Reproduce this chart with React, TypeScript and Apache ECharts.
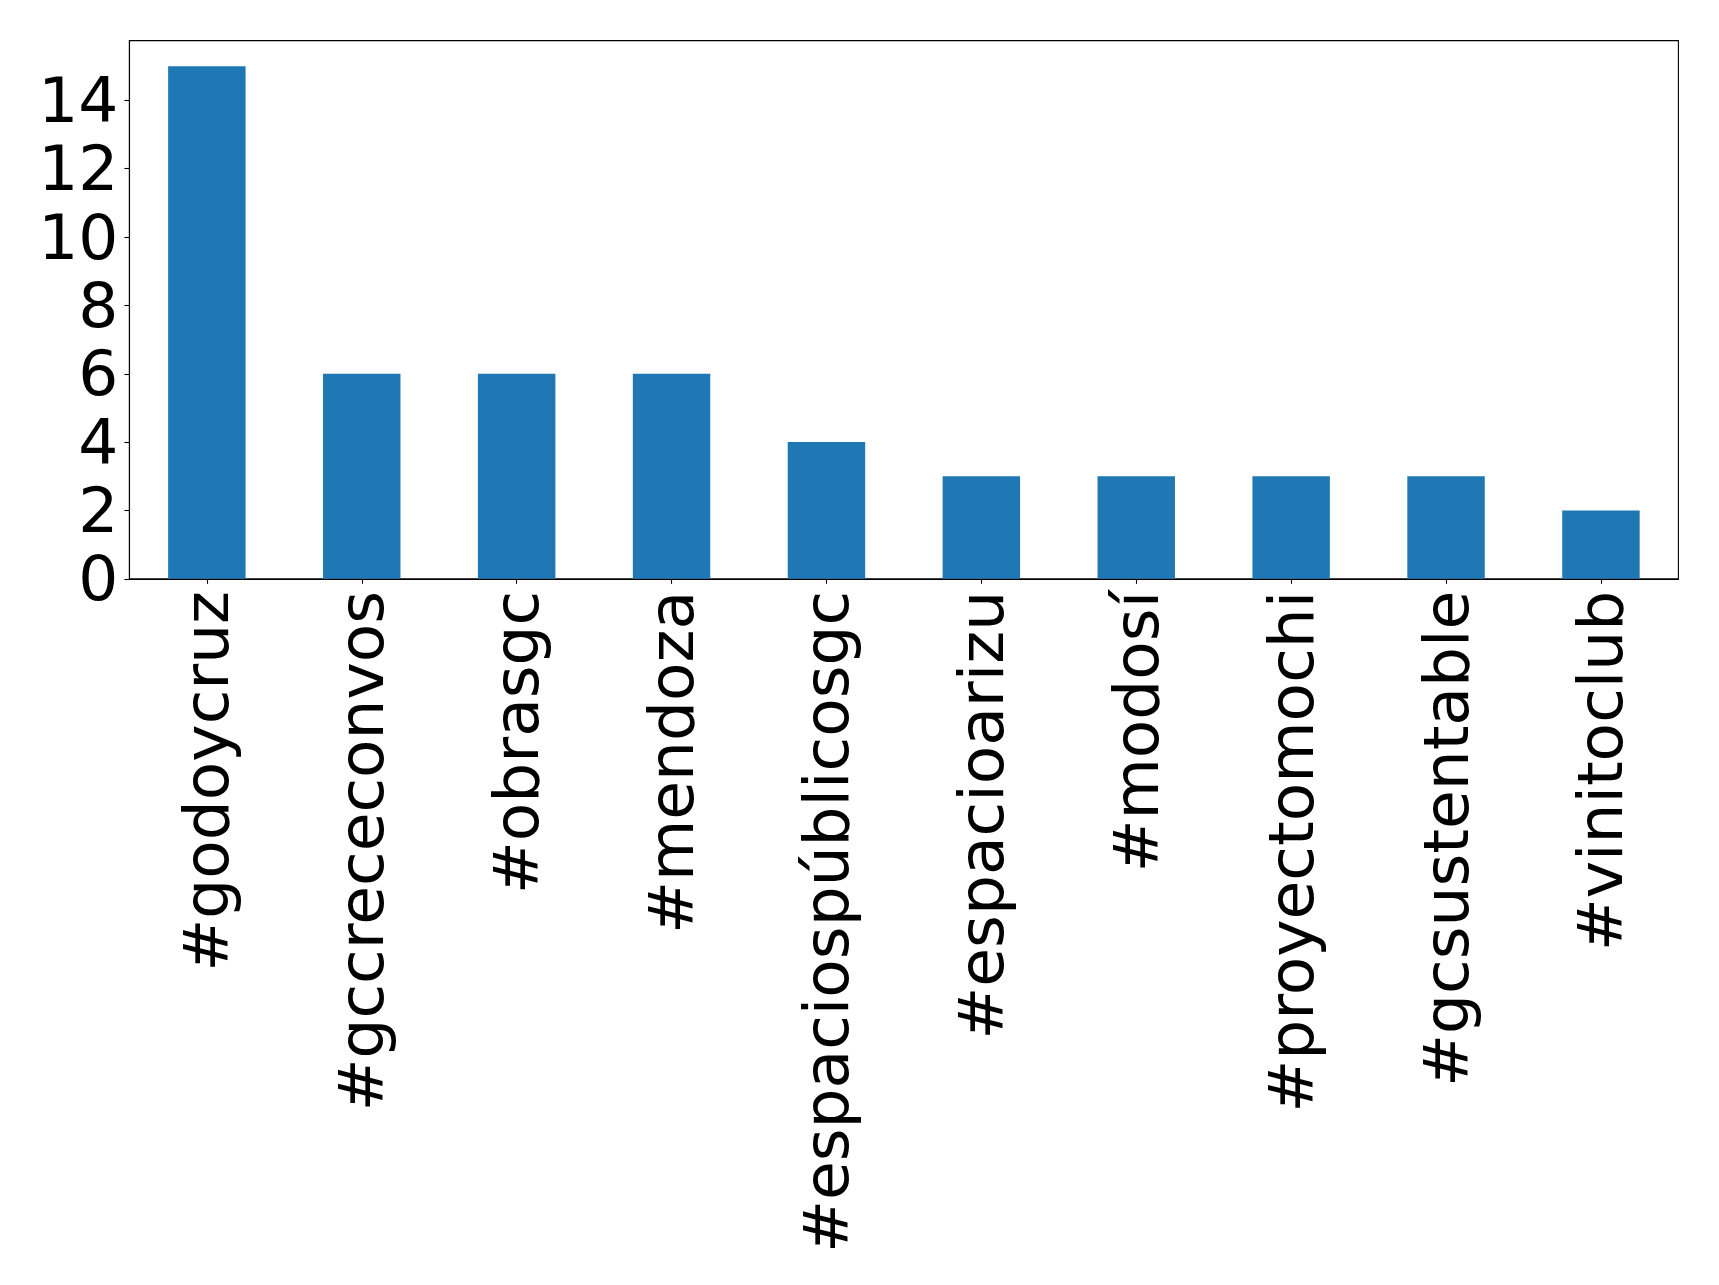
import React, { useEffect, useRef } from "react";
import * as echarts from "echarts";

const categories = [
  "#godoycruz",
  "#gccrececonvos",
  "#obrasgc",
  "#mendoza",
  "#espaciospúblicosgc",
  "#espacioarizu",
  "#modosí",
  "#proyectomochi",
  "#gcsustentable",
  "#vinitoclub",
];
const counts = [15, 6, 6, 6, 4, 3, 3, 3, 3, 2];
const yTicks = [0, 2, 4, 6, 8, 10, 12, 14];

export default function App() {
  const ref = useRef<HTMLDivElement>(null);
  useEffect(() => {
    document.body.style.margin = "0";
    const chart = echarts.init(ref.current!, null, { renderer: "svg" });
    const font = "DejaVu Sans";
    chart.setOption({
      animation: false,
      backgroundColor: "#ffffff",
      grid: {
        left: 129.4,
        right: 40.6,
        top: 40.6,
        bottom: 706.2,
        show: true,
        borderColor: "#000000",
        borderWidth: 1.1,
        containLabel: false,
      },
      xAxis: {
        type: "category",
        data: categories,
        axisLine: { show: true, lineStyle: { color: "#000000", width: 1.1 } },
        axisTick: { show: true, alignWithLabel: true, length: 5, lineStyle: { color: "#000000", width: 1.1 } },
        axisLabel: {
          rotate: 90,
          interval: 0,
          margin: 12,
          fontFamily: font,
          fontSize: 63,
          color: "#000000",
        },
        splitLine: { show: false },
      },
      yAxis: {
        type: "value",
        min: 0,
        max: 15.75,
        interval: 2,
        axisLine: { show: true, lineStyle: { color: "#000000", width: 1.1 } },
        axisTick: { show: true, length: 5, lineStyle: { color: "#000000", width: 1.1 } },
        axisLabel: {
          margin: 11,
          fontFamily: font,
          fontSize: 63,
          color: "#000000",
          showMaxLabel: false,
          formatter: (v: number) => (yTicks.includes(v) ? String(v) : ""),
        },
        splitLine: { show: false },
      },
      series: [
        {
          type: "bar",
          data: counts,
          barWidth: "50%",
          itemStyle: { color: "#1f77b4" },
        },
      ],
    });
    return () => chart.dispose();
  }, []);
  return <div ref={ref} style={{ width: 1719, height: 1285 }} />;
}
